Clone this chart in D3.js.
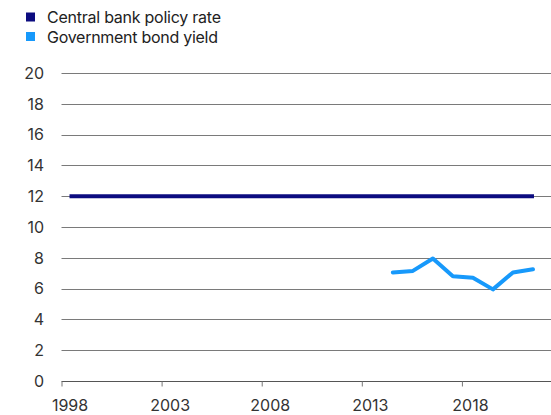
<!DOCTYPE html>
<html><head><meta charset="utf-8">
<script src="https://cdn.jsdelivr.net/npm/d3@7"></script>
<style>body{margin:0;background:#fff}svg{display:block;font-family:Inter,"Noto Sans",sans-serif}</style>
</head><body><svg id="c" width="551" height="415"></svg>
<script>
const policyYears = d3.range(1998, 2022);
const policyValues = [12,12,12,12,12,12,12,12,12,12,12,12,12,12,12,12,12,12,12,12,12,12,12,12];
const bondYears = [2014,2015,2016,2017,2018,2019,2020,2021];
const bondValues = [7.05,7.15,7.95,6.8,6.7,5.95,7.05,7.25];
const yTicks = [0,2,4,6,8,10,12,14,16,18,20];
const xTicks = [1998,2003,2008,2013,2018];
const seriesNames = ["Central bank policy rate","Government bond yield"];
const colors = ["#0c0c80","#1799fb"];

const svg = d3.select("#c");
const x = d3.scaleLinear().domain([1998, 2022.45]).range([61.5, 551]);
const y = d3.scaleLinear().domain([0, 20]).range([381, 73]);

// gridlines
svg.append("g").selectAll("line").data(yTicks.filter(d=>d>0)).join("line")
  .attr("x1", x(1998)).attr("x2", 551)
  .attr("y1", d=>Math.round(y(d))+0.5).attr("y2", d=>Math.round(y(d))+0.5)
  .attr("stroke", "#7a7a7a").attr("stroke-width", 1);

// y labels
svg.append("g").selectAll("text").data(yTicks).join("text")
  .attr("x", 44).attr("y", d=>y(d)).attr("dy","0.36em")
  .attr("text-anchor","end").attr("font-size",16).attr("fill","#333")
  .text(d=>d);

// x axis
const xAxis = d3.axisBottom(x).tickValues(xTicks).tickFormat(d3.format("d")).tickSizeOuter(0).tickSize(5).tickPadding(13);
const gx = svg.append("g").attr("transform", `translate(0,${Math.round(y(0))+0.5})`).call(xAxis);
gx.select(".domain").attr("stroke","#555").attr("d", `M${x(1998)},0H551`);
gx.selectAll(".tick line").attr("stroke","#777").attr("y1",0);
gx.selectAll(".tick text").attr("font-size",16).attr("fill","#333").attr("x",8)
  .attr("font-family","Inter,'Noto Sans',sans-serif");

const line = d3.line().x(d=>x(d[0]+0.5)).y(d=>y(d[1]));
svg.append("path").datum(policyYears.map((yr,i)=>[yr,policyValues[i]]))
  .attr("d", d=>{ const p=[[d[0][0]-0.1,d[0][1]], ...d.slice(1,-1), [d[d.length-1][0]+0.1,d[d.length-1][1]]]; return line(p); })
  .attr("fill","none").attr("stroke",colors[0]).attr("stroke-width",4);
svg.append("path").datum(bondYears.map((yr,i)=>[yr+0.05,bondValues[i]]))
  .attr("d", line).attr("fill","none").attr("stroke",colors[1]).attr("stroke-width",4)
  .attr("stroke-linejoin","round").attr("stroke-linecap","round");

// legend
const lg = svg.append("g").selectAll("g").data(seriesNames).join("g")
  .attr("transform",(d,i)=>`translate(26,${12.5+i*19.5})`);
lg.append("rect").attr("width",9).attr("height",9).attr("fill",(d,i)=>colors[i]);
lg.append("text").attr("x",21).attr("y",10.5).attr("font-size",16)
  .attr("textLength",(d,i)=>[174,171][i]).attr("lengthAdjust","spacing")
  .attr("fill","#222").text(d=>d);
</script></body></html>
